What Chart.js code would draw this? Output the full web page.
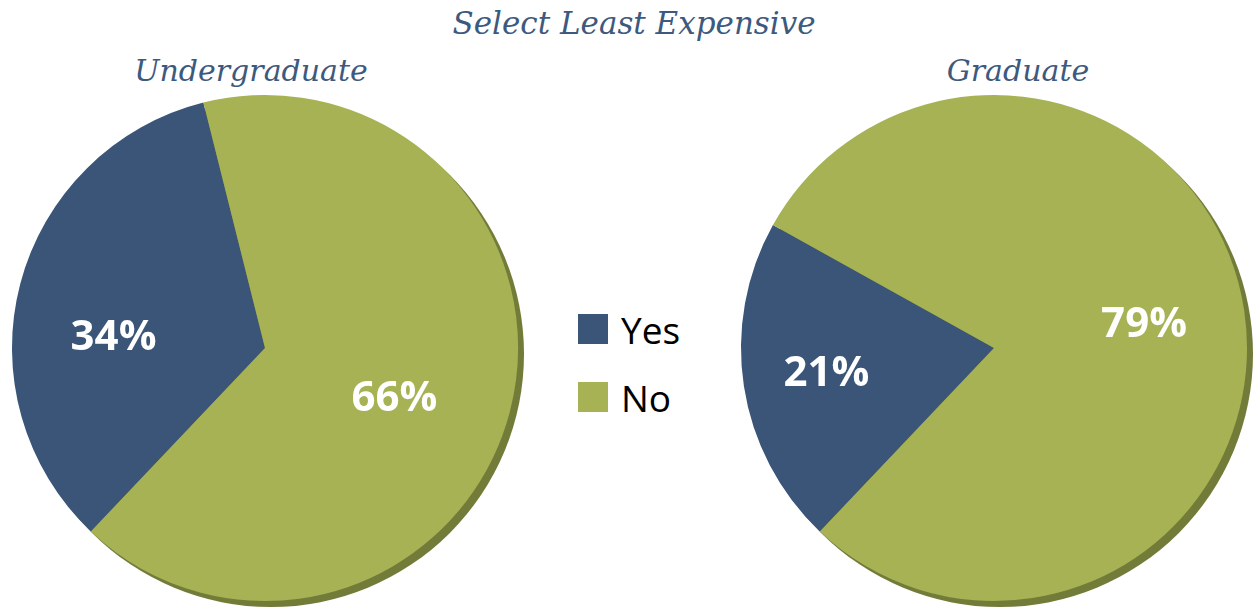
<!DOCTYPE html>
<html>
<head>
<meta charset="utf-8">
<script src="https://cdn.jsdelivr.net/npm/chart.js@4/dist/chart.umd.min.js"></script>
<style>
  body { margin: 0; width: 1256px; height: 611px; background: #fff; position: relative; overflow: hidden; }
  .ttl { position: absolute; font-family: 'DejaVu Serif', serif; font-style: italic; color: #3d5a7e; white-space: nowrap; transform: translateX(-50%); line-height: 1; }
  #main { left: 634px; top: 8px; font-size: 31px; }
  #sub1 { left: 251px; top: 56px; font-size: 30px; }
  #sub2 { left: 1018px; top: 56px; font-size: 30px; }
  canvas { position: absolute; }
  #c1 { left: 0; top: 88px; }
  #c2 { left: 728px; top: 88px; }
  #legend { position: absolute; left: 578px; top: 295px; font-family: 'Open Sans', sans-serif; font-size: 37px; color: #000; }
  .item { height: 68px; display: flex; align-items: center; }
  .box { width: 30px; height: 30px; margin-right: 13px; }
</style>
</head>
<body>
<div class="ttl" id="main">Select Least Expensive</div>
<div class="ttl" id="sub1">Undergraduate</div>
<div class="ttl" id="sub2">Graduate</div>
<canvas id="c1" width="530" height="520"></canvas>
<canvas id="c2" width="528" height="520"></canvas>
<div id="legend"></div>
<script>
const categories = ['Yes', 'No'];
const undergrad = [34, 66];
const graduate = [21, 79];
const colors = ['#3a5577', '#a7b254'];
const shadowColor = '#737b39';

// legend in the middle
const legend = document.getElementById('legend');
categories.forEach((c, i) => {
  const row = document.createElement('div');
  row.className = 'item';
  row.innerHTML = '<div class="box" style="background:' + colors[i] + '"></div><span>' + c + '</span>';
  legend.appendChild(row);
});

// offset dark circle behind the pie
const shadowPlugin = {
  id: 'pieShadow',
  beforeDatasetsDraw(chart) {
    const arc = chart.getDatasetMeta(0).data[0];
    if (!arc) return;
    const ctx = chart.ctx;
    ctx.save();
    ctx.fillStyle = shadowColor;
    ctx.beginPath();
    ctx.arc(arc.x + 6, arc.y + 6, arc.outerRadius, 0, Math.PI * 2);
    ctx.fill();
    ctx.restore();
  }
};

// percentage labels inside slices
const labelPlugin = {
  id: 'pctLabels',
  afterDatasetsDraw(chart, args, opts) {
    const ctx = chart.ctx;
    const meta = chart.getDatasetMeta(0);
    const values = chart.data.datasets[0].data;
    ctx.save();
    ctx.fillStyle = '#fff';
    ctx.font = 'bold 42px "Open Sans", sans-serif';
    ctx.textAlign = 'center';
    ctx.textBaseline = 'middle';
    meta.data.forEach((arc, i) => {
      const mid = (arc.startAngle + arc.endAngle) / 2 + (opts.shift ? opts.shift[i] : 0);
      const r = arc.outerRadius * opts.dist[i];
      ctx.fillText(values[i] + '%', arc.x + Math.cos(mid) * r, arc.y + Math.sin(mid) * r);
    });
    ctx.restore();
  }
};

function makePie(id, values, pad, dist, shift) {
  return new Chart(document.getElementById(id), {
    type: 'pie',
    data: {
      labels: categories,
      datasets: [{ data: values, backgroundColor: colors, borderWidth: 0 }]
    },
    options: {
      responsive: false,
      animation: false,
      rotation: 223.5,
      layout: { padding: pad },
      plugins: {
        legend: { display: false },
        tooltip: { enabled: false },
        pctLabels: { dist: dist, shift: shift }
      }
    },
    plugins: [shadowPlugin, labelPlugin]
  });
}

makePie('c1', undergrad, { left: 12, right: 12, top: 7, bottom: 7 }, [0.6, 0.55], [-0.19, 0.12]);
makePie('c2', graduate, { left: 13, right: 9, top: 7, bottom: 7 }, [0.67, 0.6], [0, 0]);
</script>
</body>
</html>
